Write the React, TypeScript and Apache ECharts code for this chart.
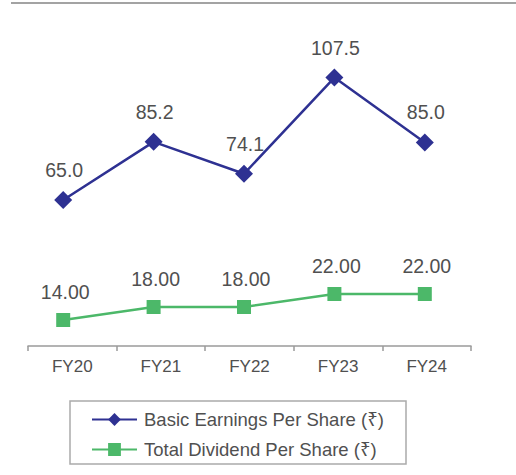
import React, { useEffect, useRef } from "react";
import * as echarts from "echarts";

const categories = ["FY20", "FY21", "FY22", "FY23", "FY24"];
const epsValues = [65.0, 85.2, 74.1, 107.5, 85.0];
const dividendValues = [14.0, 18.0, 18.0, 22.0, 22.0];
const epsName = "Basic Earnings Per Share (₹)";
const divName = "Total Dividend Per Share (₹)";

const FONT = "'Liberation Sans', Arial, 'Noto Sans', 'DejaVu Sans', sans-serif";
const TEXT = "#505050";
const NAVY = "#2e3192";
const GREEN = "#4cb869";

export default function App() {
  const ref = useRef<HTMLDivElement>(null);
  useEffect(() => {
    if (!ref.current) return;
    const chart = echarts.init(ref.current, undefined, { renderer: "svg" });
    const hiddenX = (gridIndex: number) => ({
      type: "category" as const,
      gridIndex,
      data: categories,
      boundaryGap: true,
      show: false,
    });
    chart.setOption({
      animation: false,
      backgroundColor: "#ffffff",
      textStyle: { fontFamily: FONT },
      grid: [
        { left: 28, right: 45, top: 40, bottom: 129 },
        { left: 18, right: 46, top: 41.6, bottom: 87.8 },
        { left: 18, right: 46, top: 268, bottom: 109.5 },
      ],
      xAxis: [
        {
          type: "category",
          gridIndex: 0,
          data: categories,
          boundaryGap: true,
          axisLine: { lineStyle: { color: "#9a9a9a", width: 1.5 } },
          axisTick: { show: true, inside: false, length: 5, lineStyle: { color: "#9a9a9a", width: 1.5 } },
          axisLabel: { color: TEXT, fontSize: 17, fontFamily: FONT, margin: 12 },
        },
        hiddenX(1),
        hiddenX(2),
      ],
      yAxis: [
        { type: "value", gridIndex: 0, show: false, min: 0, max: 1 },
        { type: "value", gridIndex: 1, show: false, min: 0, max: 120 },
        { type: "value", gridIndex: 2, show: false, min: 0, max: 30 },
      ],
      legend: {
        orient: "vertical",
        left: 91,
        top: 410,
        padding: 0,
        itemWidth: 45,
        itemHeight: 16,
        itemGap: 11,
        textStyle: { color: TEXT, fontSize: 18.5, fontFamily: FONT, lineHeight: 16, padding: [0, 0, 0, 2] },
        data: [epsName, divName],
      },
      graphic: [
        {
          type: "line",
          shape: { x1: 11, y1: 3, x2: 516, y2: 3 },
          style: { stroke: "#a3a3a3", lineWidth: 2 },
        },
        {
          type: "rect",
          shape: { x: 70, y: 401, width: 336, height: 63 },
          style: { fill: "none", stroke: "#aaaaaa", lineWidth: 1.5 },
        },
      ],
      series: [
        {
          name: epsName,
          type: "line",
          xAxisIndex: 1,
          yAxisIndex: 1,
          data: epsValues,
          symbol: "diamond",
          symbolSize: 18,
          itemStyle: { color: NAVY },
          lineStyle: { color: NAVY, width: 2.5 },
          label: {
            show: true,
            position: "top",
            distance: 11,
            offset: [1, 0],
            color: TEXT,
            fontSize: 19.5,
            fontFamily: FONT,
            formatter: (p: any) => Number(p.value).toFixed(1),
          },
        },
        {
          name: divName,
          type: "line",
          xAxisIndex: 2,
          yAxisIndex: 2,
          data: dividendValues,
          symbol: "rect",
          symbolSize: 14,
          itemStyle: { color: GREEN },
          lineStyle: { color: GREEN, width: 2.5 },
          label: {
            show: true,
            position: "top",
            distance: 11,
            offset: [2, 0],
            color: TEXT,
            fontSize: 19.5,
            fontFamily: FONT,
            formatter: (p: any) => Number(p.value).toFixed(2),
          },
        },
      ],
    });
    return () => chart.dispose();
  }, []);
  return (
    <div
      ref={ref}
      style={{ position: "fixed", left: 0, top: 0, width: 516, height: 475, background: "#fff" }}
    />
  );
}
